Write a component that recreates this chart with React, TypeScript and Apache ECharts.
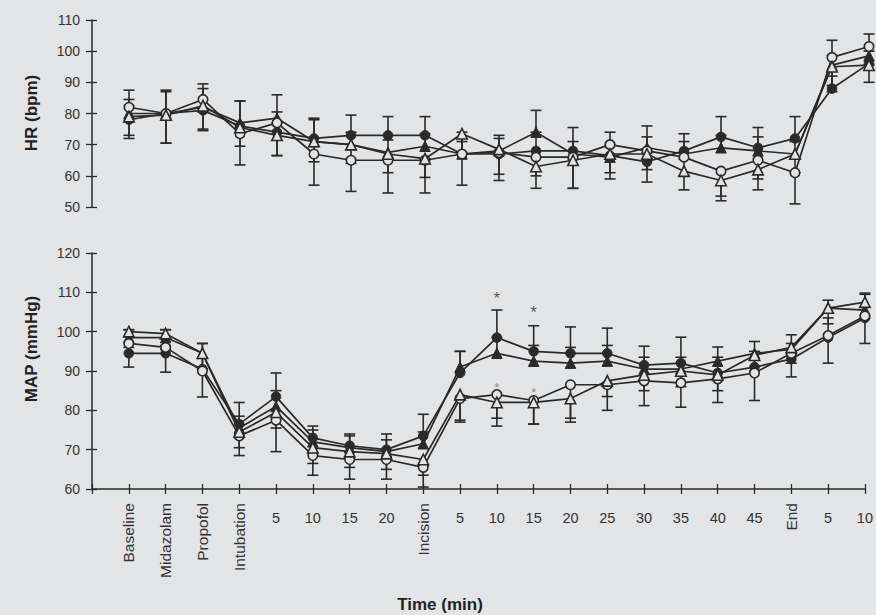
import React, { useEffect, useRef } from "react";
import * as echarts from "echarts";

// Time-point categories (leading blank slot sits at the y axis)
const categories = ["", "Baseline", "Midazolam", "Propofol", "Intubation", "5", "10", "15", "20", "Incision", "5", "10", "15", "20", "25", "30", "35", "40", "45", "End", "5", "10"];
const rotatedNames = ["Baseline", "Midazolam", "Propofol", "Intubation", "Incision", "End"];

// HR (bpm)
const hrFilledCircle = [78, 80, 81, 76, 74, 72, 73, 73, 73, 67, 67, 68, 68, 66.5, 64.5, 68, 72.5, 69, 72, 88, 96];
const hrFilledTriangle = [80, 80, 82, 77, 78.5, 71, 70, 67.5, 69.5, 67, 68, 74, 67, 66, 69, 67, 69, 68, 67, 95.5, 98.5];
const hrOpenCircle = [82, 80, 84.5, 73.5, 77, 67, 65, 65, 65, 67, 67.5, 66, 66, 70, 68, 66, 61.5, 65, 61, 98, 101.5];
const hrOpenTriangle = [79, 79.5, 82.5, 75.5, 73, 71, 70, 67, 65.5, 73.5, 68.5, 63, 65, 67, 67, 61.5, 58.5, 62, 67, 95, 95.5];
const hrFilledCircleErr = [9.5, 7.5, 8.5, 8, 6.5, 6.5, 6.5, 6, 6, 7, 6, 6, 7.5, 7.5, 11.5, 5.5, 6.5, 6.5, 7, 4, 4];
const hrFilledTriangleErr = [4.5, 7, 6, 7, 7.5, 7, 4, 4, 4, 4, 4, 7, 4, 4, 3.5, 4, 4, 4.5, 4, 8, 7];
const hrOpenCircleErr = [10, 9.5, 10, 10, 10.5, 10, 10, 10.5, 10.5, 10, 7, 6, 10, 11, 6, 6, 8, 6, 10, 11, 6];
const hrOpenTriangleErr = [6, 9, 7.5, 6, 6.5, 6.5, 6, 6, 6, 6, 10, 7, 9, 6, 9, 6, 6.5, 6.5, 6, 6, 5.5];

// MAP (mmHg)
const mapFilledCircle = [94.5, 94.5, 90.5, 76.5, 83.5, 73, 71, 70, 73.5, 89.5, 98.5, 95, 94.5, 94.5, 91.5, 92, 89.5, 91, 93, 98.5, 103.5];
const mapFilledTriangle = [98.5, 98.5, 94.5, 75.5, 81, 72, 70.5, 69.5, 71.5, 91, 94.5, 92.5, 92, 92.5, 90.5, 90.5, 92.5, 94.5, 95.5, 106, 105.5];
const mapOpenCircle = [97, 96, 90, 73.5, 77.5, 68.5, 67.5, 67.5, 65.5, 83, 84, 82.5, 86.5, 86.5, 87.5, 87, 88, 89.5, 94.5, 99, 104];
const mapOpenTriangle = [100, 99.5, 94.5, 74.5, 79.5, 70.5, 69.5, 69, 67.5, 84, 82, 82, 83, 87.5, 89, 90, 89, 94, 96, 106, 107.5];
const mapFilledCircleErr = [6, 6, 6.5, 5.5, 6, 3, 3, 4, 5.5, 5.5, 7, 6.5, 6.7, 6.4, 4.8, 6.6, 4, 4, 4, 5, 6];
const mapFilledTriangleErr = [2, 2, 2.5, 3, 4, 3, 3, 3, 3, 4, 4, 4, 4, 4, 3, 3, 3.6, 3, 3.7, 2, 4.3];
const mapOpenCircleErr = [6, 6.3, 6.6, 5, 8, 5, 5, 5, 5, 6, 8, 6, 8.5, 6.5, 6.3, 6.2, 6, 7, 6, 7, 7];
const mapOpenTriangleErr = [4, 4, 4, 4, 4, 4, 4, 4, 4, 6.5, 4, 5.5, 6, 4, 4, 4, 4, 4, 4, 4, 4];

// Significance markers on MAP
const starIndex = [11, 12];
const starMain = [109.5, 105.8];
const starMinor = [86.6, 85.2];

const BG = "#e3e4e6";
const INK = "#2a2a2a";
const FONT = "'Liberation Sans', Arial, sans-serif";

function lineSeries(values: number[], symbol: string, open: boolean, xi: number, yi: number) {
  return {
    type: "line",
    xAxisIndex: xi,
    yAxisIndex: yi,
    data: ["-", ...values],
    symbol,
    symbolSize: symbol === "triangle" ? 10.5 : 9.5,
    showSymbol: true,
    lineStyle: { color: INK, width: 1.7 },
    itemStyle: open
      ? { color: BG, borderColor: INK, borderWidth: 1.6 }
      : { color: INK, borderColor: INK, borderWidth: 1 },
    z: 3,
    silent: true,
  };
}

function errSeries(values: number[], errs: number[], dir: number, xi: number, yi: number) {
  return {
    type: "custom",
    xAxisIndex: xi,
    yAxisIndex: yi,
    data: values.map((v, i) => [i + 1, v, v + dir * errs[i]]),
    encode: { x: 0, y: [1, 2] },
    z: 2,
    silent: true,
    renderItem: (params: any, api: any) => {
      const a = api.coord([api.value(0), api.value(1)]);
      const b = api.coord([api.value(0), api.value(2)]);
      const hw = 5.5;
      return {
        type: "group",
        children: [
          { type: "line", shape: { x1: a[0], y1: a[1], x2: b[0], y2: b[1] }, style: { stroke: INK, lineWidth: 1.6 } },
          { type: "line", shape: { x1: b[0] - hw, y1: b[1], x2: b[0] + hw, y2: b[1] }, style: { stroke: INK, lineWidth: 1.6 } },
        ],
      };
    },
  };
}

export default function App() {
  const ref = useRef<HTMLDivElement>(null);
  useEffect(() => {
    if (!ref.current) return;
    const chart = echarts.init(ref.current, undefined, { renderer: "svg" });
    const axisText = { color: "#333", fontSize: 14, fontFamily: FONT };
    const catBase = { type: "category", data: categories, boundaryGap: false };
    const option: any = {
      animation: false,
      backgroundColor: BG,
      grid: [
        { left: 92, right: 7, top: 20, height: 187 },
        { left: 92, right: 7, top: 253, height: 236 },
      ],
      xAxis: [
        { ...catBase, gridIndex: 0, show: false },
        {
          ...catBase,
          gridIndex: 1,
          position: "bottom",
          axisLine: { lineStyle: { color: INK, width: 1.5 } },
          axisTick: { length: 5, lineStyle: { color: INK, width: 1.3 }, interval: 0 },
          axisLabel: {
            ...axisText,
            fontSize: 15.5,
            interval: 0,
            rotate: 90,
            margin: 14,
            formatter: (v: string) => (rotatedNames.includes(v) ? v : ""),
          },
        },
        {
          ...catBase,
          gridIndex: 1,
          position: "bottom",
          axisLine: { show: false },
          axisTick: { inside: true, length: 5, lineStyle: { color: INK, width: 1.3 }, interval: 0 },
          axisLabel: {
            ...axisText,
            fontSize: 14.5,
            interval: 0,
            margin: 21,
            formatter: (v: string) => (rotatedNames.includes(v) ? "" : v),
          },
        },
      ],
      yAxis: [
        {
          type: "value", gridIndex: 0, min: 50, max: 110, interval: 10, position: "left",
          splitLine: { show: false },
          axisLine: { show: true, lineStyle: { color: INK, width: 1.5 } },
          axisTick: { show: true, length: 6, lineStyle: { color: INK, width: 1.3 } },
          axisLabel: { ...axisText, margin: 12 },
        },
        {
          type: "value", gridIndex: 0, min: 50, max: 110, interval: 10, position: "left",
          splitLine: { show: false },
          axisLine: { show: false },
          axisTick: { show: true, inside: true, length: 5, lineStyle: { color: INK, width: 1.3 } },
          axisLabel: { show: false },
        },
        {
          type: "value", gridIndex: 1, min: 60, max: 120, interval: 10, position: "left",
          splitLine: { show: false },
          axisLine: { show: true, lineStyle: { color: INK, width: 1.5 } },
          axisTick: { show: true, length: 6, lineStyle: { color: INK, width: 1.3 } },
          axisLabel: { ...axisText, margin: 12 },
        },
        {
          type: "value", gridIndex: 1, min: 60, max: 120, interval: 10, position: "left",
          splitLine: { show: false },
          axisLine: { show: false },
          axisTick: { show: true, inside: true, length: 5, lineStyle: { color: INK, width: 1.3 } },
          axisLabel: { show: false },
        },
      ],
      graphic: [
        {
          type: "text", x: 31, y: 113, rotation: Math.PI / 2,
          style: { text: "HR (bpm)", font: `bold 17px ${FONT}`, fill: "#222", textAlign: "center", textVerticalAlign: "middle" },
        },
        {
          type: "text", x: 31, y: 349, rotation: Math.PI / 2,
          style: { text: "MAP (mmHg)", font: `bold 17px ${FONT}`, fill: "#222", textAlign: "center", textVerticalAlign: "middle" },
        },
        {
          type: "text", x: 440, y: 604,
          style: { text: "Time (min)", font: `bold 17px ${FONT}`, fill: "#222", textAlign: "center", textVerticalAlign: "middle" },
        },
      ],
      series: [
        errSeries(hrFilledCircle, hrFilledCircleErr, 1, 0, 0),
        errSeries(hrFilledTriangle, hrFilledTriangleErr, 1, 0, 0),
        errSeries(hrOpenCircle, hrOpenCircleErr, -1, 0, 0),
        errSeries(hrOpenTriangle, hrOpenTriangleErr, -1, 0, 0),
        lineSeries(hrFilledCircle, "circle", false, 0, 0),
        lineSeries(hrFilledTriangle, "triangle", false, 0, 0),
        lineSeries(hrOpenCircle, "circle", true, 0, 0),
        lineSeries(hrOpenTriangle, "triangle", true, 0, 0),
        errSeries(mapFilledCircle, mapFilledCircleErr, 1, 1, 2),
        errSeries(mapFilledTriangle, mapFilledTriangleErr, 1, 1, 2),
        errSeries(mapOpenCircle, mapOpenCircleErr, -1, 1, 2),
        errSeries(mapOpenTriangle, mapOpenTriangleErr, -1, 1, 2),
        lineSeries(mapFilledCircle, "circle", false, 1, 2),
        lineSeries(mapFilledTriangle, "triangle", false, 1, 2),
        lineSeries(mapOpenCircle, "circle", true, 1, 2),
        lineSeries(mapOpenTriangle, "triangle", true, 1, 2),
        {
          type: "scatter", xAxisIndex: 1, yAxisIndex: 2, symbolSize: 1, silent: true,
          itemStyle: { color: "rgba(0,0,0,0)" },
          data: starIndex.map((c, i) => [c, starMain[i]]),
          label: { show: true, position: "inside", formatter: "*", fontSize: 17, color: "#333", fontFamily: FONT, offset: [0, 4] },
          z: 4,
        },
        {
          type: "scatter", xAxisIndex: 1, yAxisIndex: 2, symbolSize: 1, silent: true,
          itemStyle: { color: "rgba(0,0,0,0)" },
          data: starIndex.map((c, i) => [c, starMinor[i]]),
          label: { show: true, position: "inside", formatter: "*", fontSize: 13, color: "#777", fontFamily: FONT, offset: [0, 3] },
          z: 4,
        },
      ],
    };
    chart.setOption(option);
    return () => chart.dispose();
  }, []);
  return (
    <div
      ref={ref}
      style={{ position: "fixed", left: 0, top: 0, width: 876, height: 615, background: BG }}
    />
  );
}
